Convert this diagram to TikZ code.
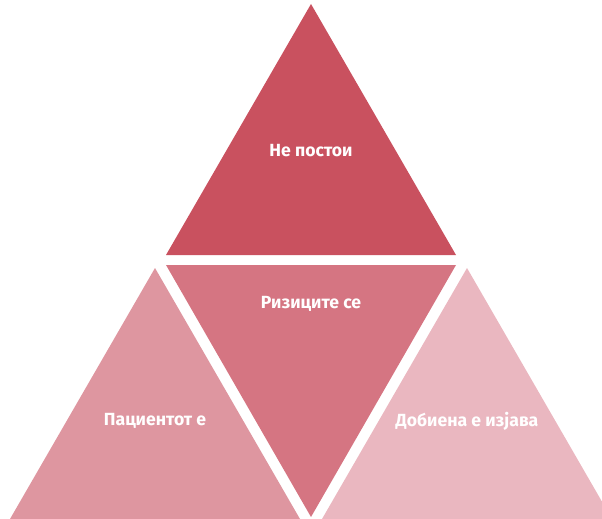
\documentclass[tikz,border=0pt]{standalone}
\usepackage{fontspec}
\setmainfont{Fira Sans}
\usepackage{tikz}
\usetikzlibrary{positioning}

\definecolor{topred}{RGB}{201,81,95}
\definecolor{midred}{RGB}{213,117,130}
\definecolor{leftpink}{RGB}{222,150,160}
\definecolor{rightpink}{RGB}{234,183,192}

\begin{document}
\begin{tikzpicture}[x=1pt,y=-1pt]
	\clip (0,0) rectangle (602,519);

	% corners of the four triangles
	\coordinate (t1) at (311,4);
	\coordinate (t2) at (166,255);
	\coordinate (t3) at (456,255);
	\coordinate (m1) at (166,265);
	\coordinate (m2) at (456,265);
	\coordinate (m3) at (311,517);
	\coordinate (l1) at (155,268);
	\coordinate (l2) at (10,519);
	\coordinate (l3) at (300,519);
	\coordinate (r1) at (467,268);
	\coordinate (r2) at (322,519);
	\coordinate (r3) at (612,519);

	\fill[topred] (t1) -- (t2) -- (t3) -- cycle;
	\fill[midred] (m1) -- (m2) -- (m3) -- cycle;
	\fill[leftpink] (l1) -- (l2) -- (l3) -- cycle;
	\fill[rightpink] (r1) -- (r2) -- (r3) -- cycle;

	\begin{scope}[every node/.style={text=white, font=\bfseries\fontsize{17.6}{21}\selectfont, inner sep=0pt}]
		\node (top) at (311,151) {Не постои};
		\node (mid) at (311,304) {Ризиците се};
		\node (left) at (155,421) {Пациентот е};
		\node (right) at (467,421) {Добиена е изјава};
	\end{scope}
\end{tikzpicture}
\end{document}
